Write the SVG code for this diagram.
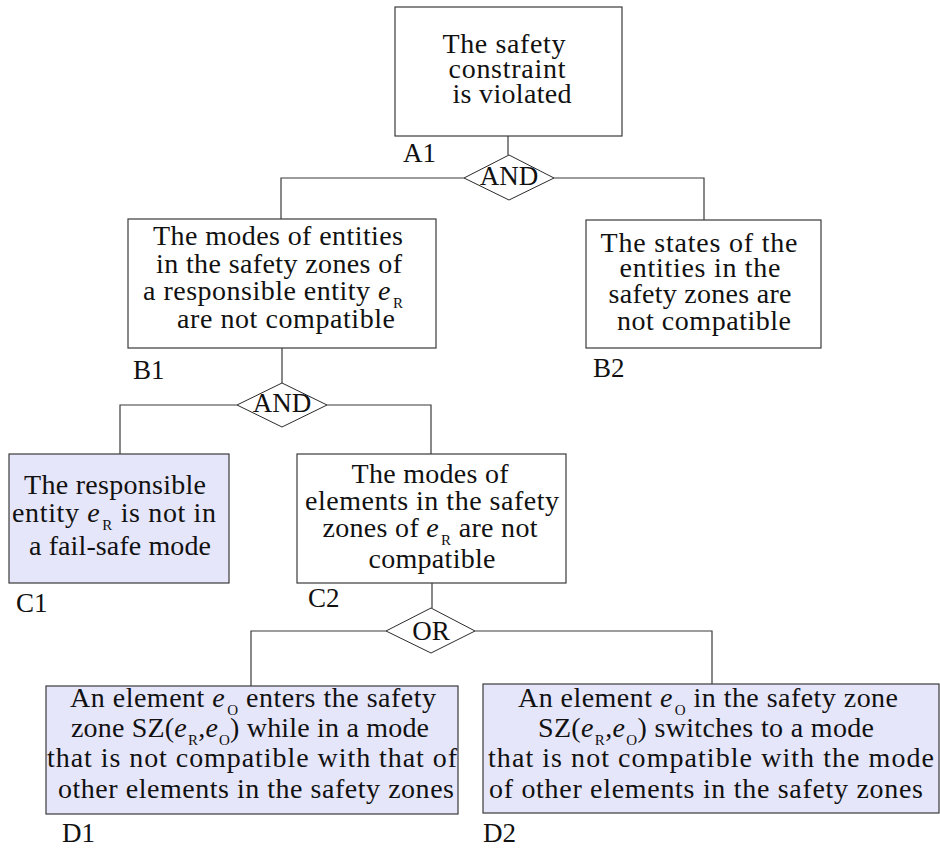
<svg xmlns="http://www.w3.org/2000/svg" width="940" height="848" viewBox="0 0 940 848">
  <style>
    .box { fill: #ffffff; stroke: #3a3a3a; stroke-width: 1.2; }
    .leaf { fill: #e6e6fa; stroke: #3a3a3a; stroke-width: 1.2; }
    .gate { fill: #ffffff; stroke: #2a2a2a; stroke-width: 1; }
    .wire { fill: none; stroke: #3a3a3a; stroke-width: 1.2; }
    text { font-family: 'Liberation Serif', 'DejaVu Serif', serif; font-size: 28px; fill: #111; }
    .t { text-anchor: middle; }
    .lbl { font-size: 27px; }
    .op { font-size: 27px; text-anchor: middle; }
    .it { font-style: italic; }
    .sub { font-size: 15px; }
  </style>

  <!-- connectors -->
  <g id="connectors" class="wire">
    <path d="M508,136 V155"/>
    <path d="M464,178 H281 V219"/>
    <path d="M554,178 H704 V220"/>
    <path d="M282,348 V383"/>
    <path d="M237,405 H120 V454"/>
    <path d="M327,405 H431 V454"/>
    <path d="M432,583 V608"/>
    <path d="M386,631 H251 V686"/>
    <path d="M475,631 H712 V684"/>
  </g>

  <!-- A1 -->
  <g id="A1">
    <rect class="box" x="395" y="7" width="227" height="129"/>
    <text class="t" x="504" y="53" textLength="123">The safety</text>
    <text class="t" x="507" y="78" textLength="117">constraint</text>
    <text class="t" x="512" y="103" textLength="119">is violated</text>
    <text class="lbl" x="403" y="162">A1</text>
  </g>

  <!-- AND gate under A1 -->
  <g id="G1">
    <polygon class="gate" points="509,155 554,178 509,200 464,178"/>
    <text class="op" x="509" y="185">AND</text>
  </g>

  <!-- B1 -->
  <g id="B1">
    <rect class="box" x="128" y="219" width="308" height="129"/>
    <text class="t" x="278" y="245" textLength="250">The modes of entities</text>
    <text class="t" x="279" y="273" textLength="246">in the safety zones of</text>
    <text class="t" x="273" y="300" textLength="260">a responsible entity <tspan class="it">e</tspan><tspan class="sub" dx="2" dy="8">R</tspan></text>
    <text class="t" x="286" y="328" textLength="218">are not compatible</text>
    <text class="lbl" x="133" y="379">B1</text>
  </g>

  <!-- B2 -->
  <g id="B2">
    <rect class="box" x="586" y="220" width="235" height="128"/>
    <text class="t" x="699" y="252" textLength="197">The states of the</text>
    <text class="t" x="700" y="277" textLength="161">entities in the</text>
    <text class="t" x="700" y="303" textLength="183">safety zones are</text>
    <text class="t" x="704" y="330" textLength="174">not compatible</text>
    <text class="lbl" x="593" y="377">B2</text>
  </g>

  <!-- AND gate under B1 -->
  <g id="G2">
    <polygon class="gate" points="282,383 327,405 282,427 237,405"/>
    <text class="op" x="282" y="412">AND</text>
  </g>

  <!-- C1 -->
  <g id="C1">
    <rect class="leaf" x="9" y="454" width="220" height="129"/>
    <text class="t" x="115" y="494" textLength="182">The responsible</text>
    <text class="t" x="114" y="522" textLength="204">entity <tspan class="it">e</tspan><tspan class="sub" dx="2" dy="8">R</tspan><tspan dy="-8"> is not in</tspan></text>
    <text class="t" x="120" y="555" textLength="182">a fail-safe mode</text>
    <text class="lbl" x="16" y="612">C1</text>
  </g>

  <!-- C2 -->
  <g id="C2">
    <rect class="box" x="297" y="454" width="269" height="129"/>
    <text class="t" x="430" y="483" textLength="157">The modes of</text>
    <text class="t" x="432" y="510" textLength="254">elements in the safety</text>
    <text class="t" x="430" y="537" textLength="215">zones of <tspan class="it">e</tspan><tspan class="sub" dx="2" dy="8">R</tspan><tspan dy="-8"> are not</tspan></text>
    <text class="t" x="432" y="568" textLength="127">compatible</text>
    <text class="lbl" x="308" y="607">C2</text>
  </g>

  <!-- OR gate under C2 -->
  <g id="G3">
    <polygon class="gate" points="431,608 475,631 431,653 386,631"/>
    <text class="op" x="431" y="640">OR</text>
  </g>

  <!-- D1 -->
  <g id="D1">
    <rect class="leaf" x="46" y="686" width="412" height="128"/>
    <text class="t" x="253" y="707" textLength="366">An element <tspan class="it">e</tspan><tspan class="sub" dx="2" dy="8">O</tspan><tspan dy="-8"> enters the safety</tspan></text>
    <text class="t" x="250" y="737" textLength="358">zone SZ(<tspan class="it">e</tspan><tspan class="sub" dx="1" dy="8">R</tspan><tspan dy="-8">,</tspan><tspan class="it">e</tspan><tspan class="sub" dx="1" dy="8">O</tspan><tspan dy="-8">) while in a mode</tspan></text>
    <text class="t" x="252" y="767" textLength="410">that is not compatible with that of</text>
    <text class="t" x="256" y="798" textLength="396">other elements in the safety zones</text>
    <text class="lbl" x="62" y="842">D1</text>
  </g>

  <!-- D2 -->
  <g id="D2">
    <rect class="leaf" x="483" y="684" width="456" height="129"/>
    <text class="t" x="708" y="707" textLength="380">An element <tspan class="it">e</tspan><tspan class="sub" dx="2" dy="8">O</tspan><tspan dy="-8"> in the safety zone</tspan></text>
    <text class="t" x="706" y="737" textLength="336">SZ(<tspan class="it">e</tspan><tspan class="sub" dx="1" dy="8">R</tspan><tspan dy="-8">,</tspan><tspan class="it">e</tspan><tspan class="sub" dx="1" dy="8">O</tspan><tspan dy="-8">) switches to a mode</tspan></text>
    <text class="t" x="711" y="767" textLength="446">that is not compatible with the mode</text>
    <text class="t" x="706" y="798" textLength="434">of other elements in the safety zones</text>
    <text class="lbl" x="483" y="842">D2</text>
  </g>
</svg>
